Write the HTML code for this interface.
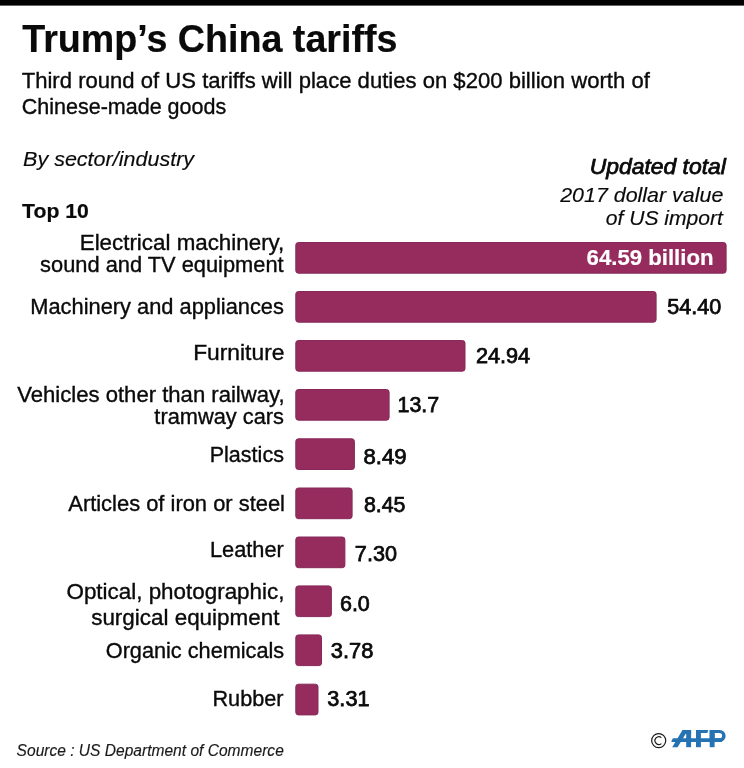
<!DOCTYPE html>
<html><head><meta charset="utf-8"><style>
html,body{margin:0;padding:0;background:#fff;overflow:hidden;width:744px;height:768px;}
svg{display:block;will-change:transform;}
text{font-family:"Liberation Sans",sans-serif;}
</style></head><body>
<svg width="744" height="768" viewBox="0 0 744 768">
<rect x="0" y="0" width="744" height="768" fill="#fff"/>
<rect x="0" y="0" width="744" height="5.6" fill="#000"/>
<rect x="295.80" y="242.50" width="430.30" height="30.70" rx="2.6" fill="#962c5e" stroke="#86295a" stroke-width="1"/>
<rect x="295.80" y="291.50" width="360.30" height="30.70" rx="2.6" fill="#962c5e" stroke="#86295a" stroke-width="1"/>
<rect x="295.80" y="340.50" width="169.20" height="30.70" rx="2.6" fill="#962c5e" stroke="#86295a" stroke-width="1"/>
<rect x="295.80" y="389.50" width="93.30" height="30.70" rx="2.6" fill="#962c5e" stroke="#86295a" stroke-width="1"/>
<rect x="295.80" y="438.80" width="58.60" height="30.70" rx="2.6" fill="#962c5e" stroke="#86295a" stroke-width="1"/>
<rect x="295.80" y="488.00" width="56.30" height="30.70" rx="2.6" fill="#962c5e" stroke="#86295a" stroke-width="1"/>
<rect x="295.80" y="537.00" width="49.10" height="30.70" rx="2.6" fill="#962c5e" stroke="#86295a" stroke-width="1"/>
<rect x="295.80" y="585.90" width="35.60" height="30.70" rx="2.6" fill="#962c5e" stroke="#86295a" stroke-width="1"/>
<rect x="295.80" y="634.90" width="25.70" height="30.70" rx="2.6" fill="#962c5e" stroke="#86295a" stroke-width="1"/>
<rect x="295.80" y="684.20" width="22.20" height="30.70" rx="2.6" fill="#962c5e" stroke="#86295a" stroke-width="1"/>
<text id="title" x="22.25" y="51.70" font-size="38.51" textLength="375.23" lengthAdjust="spacingAndGlyphs" fill="#0a0a0a" font-weight="700" stroke="#0a0a0a" stroke-width="0.2">Trump’s China tariffs</text>
<text id="sub1" x="21.69" y="88.00" font-size="21.19" textLength="628.12" lengthAdjust="spacingAndGlyphs" fill="#0a0a0a" stroke="#0a0a0a" stroke-width="0.35">Third round of US tariffs will place duties on $200 billion worth of</text>
<text id="sub2" x="21.77" y="114.30" font-size="21.19" textLength="204.37" lengthAdjust="spacingAndGlyphs" fill="#0a0a0a" stroke="#0a0a0a" stroke-width="0.35">Chinese-made goods</text>
<text id="by" x="23.05" y="165.80" font-size="20.69" textLength="171.02" lengthAdjust="spacingAndGlyphs" fill="#0a0a0a" stroke="#0a0a0a" stroke-width="0.15" font-style="italic">By sector/industry</text>
<text id="top10" x="22.08" y="217.90" font-size="20.62" textLength="66.70" lengthAdjust="spacingAndGlyphs" fill="#0a0a0a" font-weight="700" stroke="#0a0a0a" stroke-width="0.2">Top 10</text>
<text id="upd" x="589.66" y="173.80" font-size="21.19" textLength="136.17" lengthAdjust="spacingAndGlyphs" fill="#0a0a0a" stroke="#0a0a0a" stroke-width="0.75" font-style="italic">Updated total</text>
<text id="dollar" x="560.17" y="201.80" font-size="20.69" textLength="163.18" lengthAdjust="spacingAndGlyphs" fill="#0a0a0a" stroke="#0a0a0a" stroke-width="0.15" font-style="italic">2017 dollar value</text>
<text id="ofus" x="605.77" y="225.20" font-size="20.69" textLength="117.16" lengthAdjust="spacingAndGlyphs" fill="#0a0a0a" stroke="#0a0a0a" stroke-width="0.15" font-style="italic">of US import</text>
<text id="l1a" x="79.72" y="250.20" font-size="21.19" textLength="204.61" lengthAdjust="spacingAndGlyphs" fill="#0a0a0a" stroke="#0a0a0a" stroke-width="0.35">Electrical machinery,</text>
<text id="l1b" x="40.12" y="272.00" font-size="21.19" textLength="243.51" lengthAdjust="spacingAndGlyphs" fill="#0a0a0a" stroke="#0a0a0a" stroke-width="0.35">sound and TV equipment</text>
<text id="l2" x="30.26" y="313.80" font-size="21.19" textLength="253.68" lengthAdjust="spacingAndGlyphs" fill="#0a0a0a" stroke="#0a0a0a" stroke-width="0.35">Machinery and appliances</text>
<text id="l3" x="193.15" y="360.30" font-size="21.19" textLength="91.28" lengthAdjust="spacingAndGlyphs" fill="#0a0a0a" stroke="#0a0a0a" stroke-width="0.35">Furniture</text>
<text id="l4a" x="17.29" y="402.00" font-size="21.19" textLength="267.26" lengthAdjust="spacingAndGlyphs" fill="#0a0a0a" stroke="#0a0a0a" stroke-width="0.35">Vehicles other than railway,</text>
<text id="l4b" x="154.38" y="423.70" font-size="21.19" textLength="129.55" lengthAdjust="spacingAndGlyphs" fill="#0a0a0a" stroke="#0a0a0a" stroke-width="0.35">tramway cars</text>
<text id="l5" x="209.72" y="461.90" font-size="21.19" textLength="74.20" lengthAdjust="spacingAndGlyphs" fill="#0a0a0a" stroke="#0a0a0a" stroke-width="0.35">Plastics</text>
<text id="l6" x="68.27" y="511.00" font-size="21.19" textLength="216.72" lengthAdjust="spacingAndGlyphs" fill="#0a0a0a" stroke="#0a0a0a" stroke-width="0.35">Articles of iron or steel</text>
<text id="l7" x="210.02" y="556.80" font-size="21.19" textLength="73.82" lengthAdjust="spacingAndGlyphs" fill="#0a0a0a" stroke="#0a0a0a" stroke-width="0.35">Leather</text>
<text id="l8a" x="66.46" y="598.50" font-size="21.19" textLength="218.01" lengthAdjust="spacingAndGlyphs" fill="#0a0a0a" stroke="#0a0a0a" stroke-width="0.35">Optical, photographic,</text>
<text id="l8b" x="91.19" y="625.00" font-size="21.19" textLength="188.18" lengthAdjust="spacingAndGlyphs" fill="#0a0a0a" stroke="#0a0a0a" stroke-width="0.35">surgical equipment</text>
<text id="l9" x="105.76" y="658.00" font-size="21.19" textLength="178.46" lengthAdjust="spacingAndGlyphs" fill="#0a0a0a" stroke="#0a0a0a" stroke-width="0.35">Organic chemicals</text>
<text id="l10" x="212.42" y="706.40" font-size="21.19" textLength="71.13" lengthAdjust="spacingAndGlyphs" fill="#0a0a0a" stroke="#0a0a0a" stroke-width="0.35">Rubber</text>
<text id="v1" x="586.58" y="265.30" font-size="21.19" textLength="126.90" lengthAdjust="spacingAndGlyphs" fill="#fff" font-weight="700" stroke="#fff" stroke-width="0.2">64.59 billion</text>
<text id="v2" x="667.28" y="313.90" font-size="21.40" textLength="53.93" lengthAdjust="spacingAndGlyphs" fill="#0a0a0a" stroke="#0a0a0a" stroke-width="0.75">54.40</text>
<text id="v3" x="475.98" y="363.00" font-size="21.40" textLength="54.18" lengthAdjust="spacingAndGlyphs" fill="#0a0a0a" stroke="#0a0a0a" stroke-width="0.75">24.94</text>
<text id="v4" x="397.47" y="412.30" font-size="21.40" textLength="41.70" lengthAdjust="spacingAndGlyphs" fill="#0a0a0a" stroke="#0a0a0a" stroke-width="0.75">13.7</text>
<text id="v5" x="363.57" y="464.20" font-size="21.40" textLength="42.97" lengthAdjust="spacingAndGlyphs" fill="#0a0a0a" stroke="#0a0a0a" stroke-width="0.75">8.49</text>
<text id="v6" x="363.96" y="511.70" font-size="21.40" textLength="41.47" lengthAdjust="spacingAndGlyphs" fill="#0a0a0a" stroke="#0a0a0a" stroke-width="0.75">8.45</text>
<text id="v7" x="354.89" y="560.80" font-size="21.40" textLength="42.07" lengthAdjust="spacingAndGlyphs" fill="#0a0a0a" stroke="#0a0a0a" stroke-width="0.75">7.30</text>
<text id="v8" x="339.96" y="611.40" font-size="21.40" textLength="29.86" lengthAdjust="spacingAndGlyphs" fill="#0a0a0a" stroke="#0a0a0a" stroke-width="0.75">6.0</text>
<text id="v9" x="330.83" y="657.90" font-size="21.40" textLength="42.52" lengthAdjust="spacingAndGlyphs" fill="#0a0a0a" stroke="#0a0a0a" stroke-width="0.75">3.78</text>
<text id="v10" x="327.34" y="706.20" font-size="21.40" textLength="42.16" lengthAdjust="spacingAndGlyphs" fill="#0a0a0a" stroke="#0a0a0a" stroke-width="0.75">3.31</text>
<text id="src" x="16.60" y="755.50" font-size="16.44" textLength="267.20" lengthAdjust="spacingAndGlyphs" fill="#1a1a1a" stroke="#1a1a1a" stroke-width="0.15" font-style="italic">Source : US Department of Commerce</text>
<g fill="#2673b3">
<polygon points="671.2,741.9 672.8,738.3 722,738.3 722,741.9"/>
<polygon points="672.2,747.2 677.6,747.2 688,730 682.5,730"/>
<rect x="682.5" y="730" width="8.6" height="3.9"/>
<rect x="686.2" y="730" width="4.9" height="17.2"/>
<rect x="696" y="730" width="4.9" height="17.2"/>
<polygon points="696,730 708.2,730 707.4,733.1 696,733.1"/>
<rect x="709.7" y="730" width="4.9" height="17.2"/>
<path d="M709.7,730 H719.6 A6,5.9 0 0 1 719.6,741.9 H709.7 Z M714.6,733.1 V738.3 H719.4 A2.7,2.6 0 0 0 719.4,733.1 Z" fill-rule="evenodd"/>
</g>
<circle cx="658.7" cy="740.6" r="7.05" fill="none" stroke="#1a1a1a" stroke-width="1.2"/>
<path d="M661.4,737.6 A3.9,3.9 0 1 0 661.4,743.6" fill="none" stroke="#1a1a1a" stroke-width="1.2"/>

</svg>
</body></html>
